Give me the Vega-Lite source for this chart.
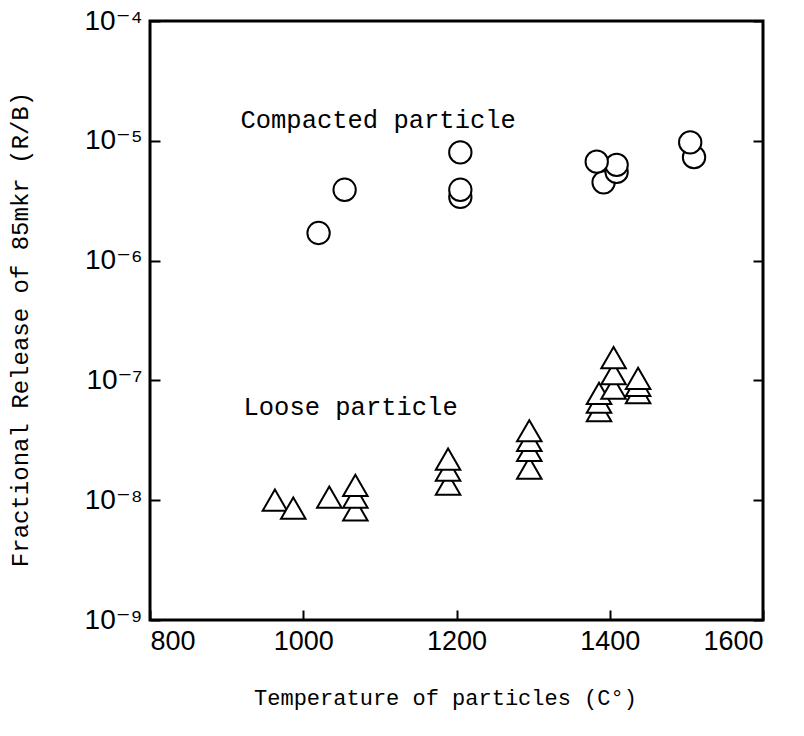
{
  "$schema": "https://vega.github.io/schema/vega-lite/v6.json",
  "width": 613,
  "height": 599,
  "autosize": {"type": "none"},
  "padding": {"left": 150, "top": 21, "right": 41, "bottom": 116},
  "background": "white",
  "config": {
    "view": {"stroke": "black", "strokeWidth": 3},
    "axis": {"grid": false}
  },
  "datasets": {
    "compacted": [
      {"temperature": 1020, "release": 1.7e-6},
      {"temperature": 1054, "release": 3.9e-6},
      {"temperature": 1205, "release": 3.4e-6},
      {"temperature": 1205, "release": 3.9e-6},
      {"temperature": 1205, "release": 8.0e-6},
      {"temperature": 1392, "release": 4.5e-6},
      {"temperature": 1409, "release": 5.5e-6},
      {"temperature": 1409, "release": 6.3e-6},
      {"temperature": 1383, "release": 6.7e-6},
      {"temperature": 1510, "release": 7.3e-6},
      {"temperature": 1505, "release": 9.7e-6}
    ],
    "loose": [
      {"temperature": 963, "release": 1.0e-8},
      {"temperature": 987, "release": 8.6e-9},
      {"temperature": 1034, "release": 1.06e-8},
      {"temperature": 1068, "release": 8.3e-9},
      {"temperature": 1068, "release": 1.06e-8},
      {"temperature": 1068, "release": 1.33e-8},
      {"temperature": 1189, "release": 1.36e-8},
      {"temperature": 1189, "release": 1.78e-8},
      {"temperature": 1189, "release": 2.2e-8},
      {"temperature": 1295, "release": 1.85e-8},
      {"temperature": 1295, "release": 2.6e-8},
      {"temperature": 1295, "release": 3.16e-8},
      {"temperature": 1295, "release": 3.8e-8},
      {"temperature": 1386, "release": 5.6e-8},
      {"temperature": 1386, "release": 6.6e-8},
      {"temperature": 1386, "release": 7.8e-8},
      {"temperature": 1437, "release": 7.9e-8},
      {"temperature": 1437, "release": 9.1e-8},
      {"temperature": 1437, "release": 1.04e-7},
      {"temperature": 1405, "release": 8.6e-8},
      {"temperature": 1405, "release": 1.14e-7},
      {"temperature": 1405, "release": 1.55e-7}
    ],
    "labels": [
      {"temperature": 918, "release": 1.5e-5, "text": "Compacted particle"},
      {"temperature": 922, "release": 6.0e-8, "text": "Loose particle"}
    ]
  },
  "encoding": {
    "x": {
      "field": "temperature",
      "type": "quantitative",
      "scale": {"domain": [800, 1600], "nice": false, "zero": false},
      "axis": {
        "values": [800, 1000, 1200, 1400, 1600],
        "format": "d",
        "title": "Temperature of particles (C°)",
        "titleFont": "Liberation Mono",
        "titleFontSize": 22,
        "titleFontWeight": "normal",
        "titleColor": "black",
        "titleX": 295,
        "titleY": 77,
        "titleBaseline": "middle",
        "labelFont": "Liberation Sans",
        "labelFontSize": 27,
        "labelColor": "black",
        "labelPadding": 18,
        "tickSize": -10,
        "tickColor": "black",
        "tickWidth": 2,
        "domain": false
      }
    }
  },
  "layer": [
    {
      "data": {"name": "compacted"},
      "mark": {"type": "point", "shape": "circle", "size": 500, "filled": true, "fill": "white", "stroke": "black", "strokeWidth": 2, "opacity": 1},
      "encoding": {
        "y": {
          "field": "release",
          "type": "quantitative",
          "scale": {"type": "log", "domain": [1e-9, 1e-4], "nice": false},
          "axis": {
            "values": [1e-9, 1e-8, 1e-7, 1e-6, 1e-5, 1e-4],
            "labelExpr": "'10' + ['⁰','⁻¹','⁻²','⁻³','⁻⁴','⁻⁵','⁻⁶','⁻⁷','⁻⁸','⁻⁹'][round(-log(datum.value)/LN10)]",
            "labelFont": "Liberation Sans, DejaVu Sans",
            "labelFontSize": 28,
            "labelColor": "black",
            "labelPadding": 18,
            "tickSize": -10,
            "tickColor": "black",
            "tickWidth": 2,
            "domain": false,
            "title": "Fractional Release of 85mkr (R/B)",
            "titleFont": "Liberation Mono",
            "titleFontSize": 24,
            "titleFontWeight": "normal",
            "titleColor": "black",
            "titleX": -130,
            "titleY": 308,
            "titleAngle": 270,
            "titleBaseline": "middle",
            "titleAlign": "center"
          }
        }
      }
    },
    {
      "data": {"name": "loose"},
      "mark": {"type": "point", "shape": "triangle-up", "size": 600, "filled": true, "fill": "white", "stroke": "black", "strokeWidth": 2, "opacity": 1},
      "encoding": {
        "y": {
          "field": "release",
          "type": "quantitative",
          "scale": {"type": "log", "domain": [1e-9, 1e-4], "nice": false},
          "axis": {
            "orient": "right",
            "values": [1e-9, 1e-8, 1e-7, 1e-6, 1e-5, 1e-4],
            "labels": false,
            "tickSize": -10,
            "tickColor": "black",
            "tickWidth": 2,
            "domain": false,
            "title": null
          }
        }
      }
    },
    {
      "data": {"name": "labels"},
      "mark": {"type": "text", "align": "left", "baseline": "middle", "font": "Liberation Mono", "fontSize": 25.5, "color": "black"},
      "encoding": {
        "y": {
          "field": "release",
          "type": "quantitative",
          "scale": {"type": "log", "domain": [1e-9, 1e-4], "nice": false},
          "axis": null
        },
        "text": {"field": "text"}
      }
    }
  ],
  "resolve": {"axis": {"y": "independent"}}
}
